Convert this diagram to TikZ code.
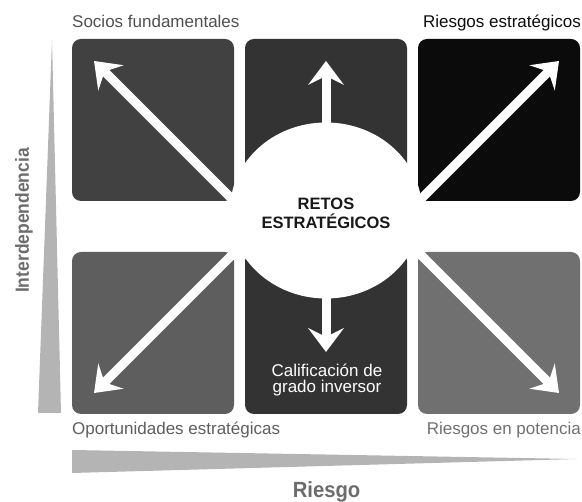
\documentclass[tikz,border=0pt]{standalone}
\usepackage{fontspec}
\setmainfont{Liberation Sans}
\usetikzlibrary{arrows.meta,shapes.geometric}
\definecolor{socgray}{RGB}{65,65,65}
\definecolor{midgray}{RGB}{51,51,51}
\definecolor{riskblack}{RGB}{11,11,11}
\definecolor{opgray}{RGB}{94,94,94}
\definecolor{potgray}{RGB}{112,112,112}
\definecolor{wedgegray}{RGB}{180,180,180}
\definecolor{labelgray}{RGB}{80,80,80}
\definecolor{axisgray}{RGB}{108,108,108}
\tikzset{
  quad/.style={rounded corners=9pt,minimum width=162pt,minimum height=162pt,inner sep=0pt},
  hub/.style={ellipse,fill=white,minimum width=192pt,minimum height=176pt,inner sep=0pt},
  pointer/.style={draw=white,line width=9pt,-{Stealth[length=24pt,width=36pt,inset=9pt,line width=0pt 0]}},
  corner/.style={inner sep=0pt,font=\fontsize{17}{20}\selectfont},
  axislabel/.style={inner sep=0pt,text=axisgray,font=\bfseries},
  wedge/.style={fill=wedgegray}
}

\begin{document}
\begin{tikzpicture}[x=1pt,y=-1pt]
\useasboundingbox (0,0) rectangle (582,502);
\node[quad,fill=socgray] (socios) at (153,120) {};
\node[quad,fill=midgray] (arriba) at (326,120) {};
\node[quad,fill=riskblack] (riesgos) at (499,120) {};
\node[quad,fill=opgray] (oport) at (153,333) {};
\node[quad,fill=midgray] (grado) at (326,333) {};
\node[quad,fill=potgray] (potencia) at (499,333) {};
\node[hub] (retos) at (326,210.5) {};
\coordinate (tlfoot) at (240,207);
\coordinate (tltip) at (94,61);
\coordinate (tmfoot) at (326,140);
\coordinate (tmtip) at (326,61);
\coordinate (trfoot) at (410,210);
\coordinate (trtip) at (559,61);
\coordinate (blfoot) at (238,249);
\coordinate (bltip) at (94,393);
\coordinate (bmfoot) at (326,280);
\coordinate (bmtip) at (326,352);
\coordinate (brfoot) at (415,249);
\coordinate (brtip) at (559,393);
\draw[pointer] (tlfoot) -- (tltip);
\draw[pointer] (tmfoot) -- (tmtip);
\draw[pointer] (trfoot) -- (trtip);
\draw[pointer] (blfoot) -- (bltip);
\draw[pointer] (bmfoot) -- (bmtip);
\draw[pointer] (brfoot) -- (brtip);
\node[inner sep=0pt,align=center,text=black!90,font=\fontsize{16.5}{19}\selectfont\bfseries] (retostext) at (326,213.6) {RETOS\\ESTRATÉGICOS};
\node[inner sep=0pt,align=center,text=white,font=\fontsize{17}{16}\selectfont] (gradotext) at (327,380.5) {Calificación de\\grado inversor};
\node[corner,anchor=base west,text=labelgray] (sociostext) at (72,28) {Socios fundamentales};
\node[corner,anchor=base east,text=black!95] (riesgostext) at (581,28) {Riesgos estratégicos};
\node[corner,anchor=base west,text=opgray] (oporttext) at (72,435) {Oportunidades estratégicas};
\node[corner,anchor=base east,text=potgray] (potenciatext) at (581,435) {Riesgos en potencia};
\fill[wedge] (52,40) -- (61,413) -- (38,413) -- cycle;
\fill[wedge] (72,450) -- (577,459) -- (72,473) -- cycle;
\node[axislabel,rotate=90,font=\fontsize{19}{22}\selectfont\bfseries] (interdep) at (24,220.5) {\scalebox{0.92}[1]{Interdependencia}};
\node[axislabel,anchor=base,font=\fontsize{22}{26}\selectfont\bfseries] (riesgo) at (326.5,498) {\scalebox{0.92}[1]{Riesgo}};
\end{tikzpicture}
\end{document}
